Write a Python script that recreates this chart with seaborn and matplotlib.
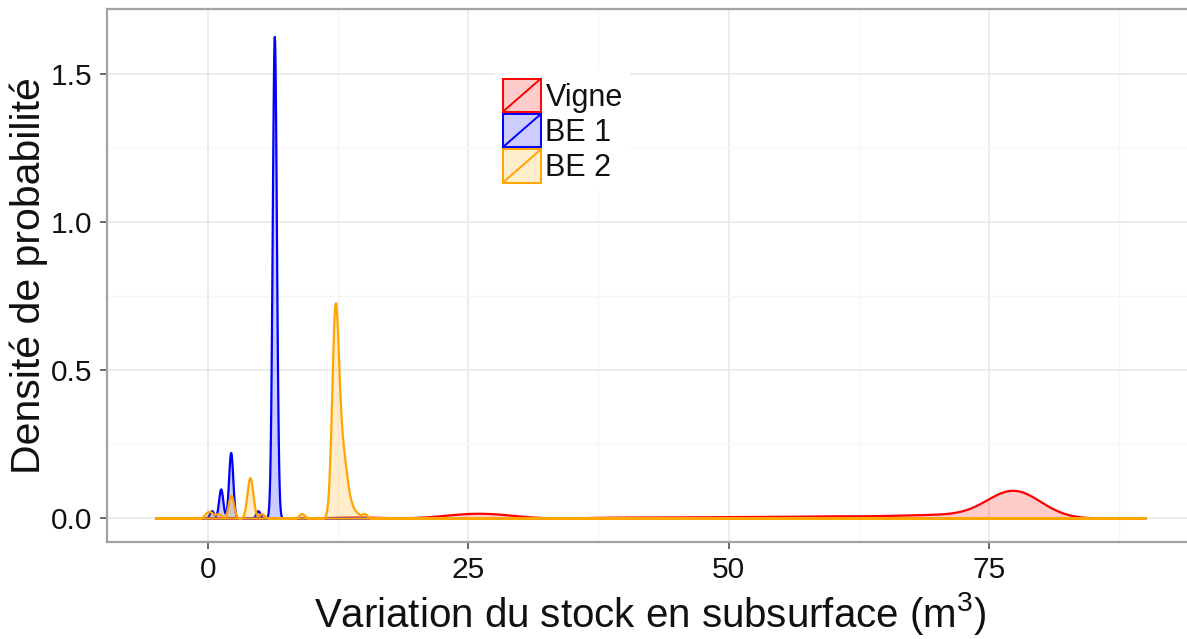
import numpy as np
import matplotlib
matplotlib.use("Agg")
import matplotlib.pyplot as plt
import seaborn as sns
from matplotlib.legend_handler import HandlerBase
from matplotlib.patches import Rectangle, Patch
from matplotlib.lines import Line2D
from matplotlib.ticker import MultipleLocator

# Stock variation observed per run (m³) and the number of runs at each value
vigne_values = [13.5, 15.0,
                23.0, 24.5, 26.0, 27.5, 29.0,
                38.0, 41.0,
                44.0, 46.5, 49.0, 51.0, 53.0, 55.0, 56.0, 58.5, 59.5, 60.5,
                62.0, 63.5, 64.8, 66.0, 67.0, 68.0, 68.8, 69.6, 70.4, 71.2,
                72.0, 72.7, 73.4, 74.0,
                75.3, 76.3, 77.2, 78.1, 79.1, 80.0]
vigne_counts = [1, 1,
                2, 2, 4, 2, 2,
                1, 1,
                1, 1, 1, 1, 1, 1, 1, 1, 1, 1,
                1, 1, 1, 1, 1, 1, 1, 1, 1, 1,
                1, 1, 1, 1,
                6, 12, 17, 12, 7, 4]

be1_values = [0.35, 1.22, 2.18, 4.8, 6.37]
be1_counts = [1, 4, 9, 1, 66]

be2_values = [-0.1, 0.3, 1.0, 2.2, 3.85, 4.0, 4.2, 5.15, 9.0,
              11.8, 11.95, 12.1, 12.25, 12.4, 12.6, 12.85, 13.1, 13.4, 13.8,
              14.3, 15.0]
be2_counts = [1, 1, 1, 5, 2, 5, 3, 1, 1,
              3, 7, 15, 17, 12, 9, 7, 6, 4, 2,
              1, 1]

groups = ["Vigne", "BE 1", "BE 2"]
colors = ["#FF0000", "#0000FF", "#FFA500"]
bandwidths = [2.2, 0.2, 0.25]          # kernel bandwidth in m³
x_support = (-5, 90)

sns.set_theme(style="white")
plt.rcParams["font.family"] = ["Liberation Sans", "DejaVu Sans"]
plt.rcParams["mathtext.fontset"] = "custom"
plt.rcParams["mathtext.rm"] = "Liberation Sans"
plt.rcParams["mathtext.default"] = "regular"

W, H = 1187, 639
fig = plt.figure(figsize=(W / 100, H / 100), dpi=100)
fig.patch.set_facecolor("white")

# panel in pixels: left 106.5, right 1194.4 (runs off the canvas), top 9, bottom 542.3
ax = fig.add_axes([106.5 / W, (H - 542.3) / H, (1194.4 - 106.5) / W, (542.3 - 9.0) / H])
ax.set_facecolor("white")

samples = [
    np.repeat(vigne_values, vigne_counts),
    np.repeat(be1_values, be1_counts),
    np.repeat(be2_values, be2_counts),
]

for obs, bw, col in zip(samples, bandwidths, colors):
    sns.kdeplot(x=obs, ax=ax, bw_method=bw / np.std(obs, ddof=1),
                fill=True, color=col, alpha=0.2, linewidth=1.6,
                clip=x_support, cut=1000, gridsize=3000)

ax.set_xlim(-9.75, 94.75)
ax.set_ylim(-0.0818, 1.7178)

ax.xaxis.set_major_locator(MultipleLocator(25))
ax.xaxis.set_minor_locator(MultipleLocator(12.5))
ax.yaxis.set_major_locator(MultipleLocator(0.5))
ax.yaxis.set_minor_locator(MultipleLocator(0.25))
ax.yaxis.set_major_formatter(matplotlib.ticker.FormatStrFormatter("%.1f"))

ax.set_axisbelow(True)
ax.grid(which="major", color="#ebebeb", linewidth=1.3)
ax.grid(which="minor", color="#f6f6f6", linewidth=0.9)

for side in ["top", "left", "bottom"]:
    ax.spines[side].set_visible(True)
    ax.spines[side].set_color("#a3a3a3")
    ax.spines[side].set_linewidth(1.6)
ax.spines["right"].set_visible(False)

ax.tick_params(which="major", direction="out", length=5, width=1.3,
               color="#5a5a5a", labelsize=21.5, labelcolor="#111111", pad=5)
ax.tick_params(which="minor", length=0)
ax.tick_params(axis="x", bottom=True)
ax.tick_params(axis="y", left=True)

ax.set_xlabel(r"Variation du stock en subsurface (m$^{3}$)", fontsize=29,
              color="#111111", labelpad=4)
ax.set_ylabel("Densité de probabilité", fontsize=29.5, color="#111111", labelpad=2)


class SlashKey(HandlerBase):
    """Filled key box crossed by a diagonal in the outline colour."""

    def create_artists(self, legend, orig_handle, xdescent, ydescent,
                       width, height, fontsize, trans):
        edge = orig_handle.get_edgecolor()
        face = orig_handle.get_facecolor()
        x0, y0 = -xdescent, -ydescent
        box = Rectangle((x0, y0), width, height, facecolor=face,
                        edgecolor=edge, linewidth=1.4, transform=trans)
        slash = Line2D([x0, x0 + width], [y0, y0 + height], color=edge,
                       linewidth=1.4, transform=trans)
        return [box, slash]


handles = [Patch(facecolor=matplotlib.colors.to_rgba(c, 0.2), edgecolor=c)
           for c in colors]
leg = ax.legend(handles, groups, handler_map={Patch: SlashKey()},
                loc="upper left", bbox_to_anchor=(495.0 / W, 1 - 71.0 / H),
                bbox_transform=fig.transFigure, borderaxespad=0,
                fontsize=22, borderpad=0.25, handlelength=1.25,
                handleheight=1.3, handletextpad=0.15, labelspacing=0.05,
                frameon=True, fancybox=False, framealpha=1,
                facecolor="white", edgecolor="none")
for t in leg.get_texts():
    t.set_color("#111111")

fig.savefig("out.png", dpi=100, facecolor="white")
